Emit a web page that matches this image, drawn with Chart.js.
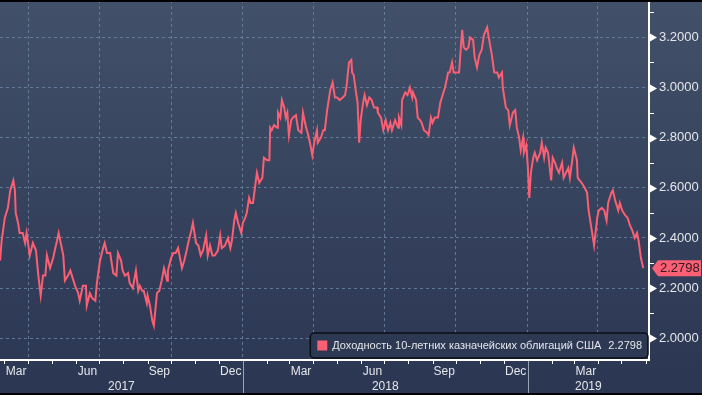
<!DOCTYPE html>
<html>
<head>
<meta charset="utf-8">
<script src="https://cdn.jsdelivr.net/npm/chart.js@4.4.1/dist/chart.umd.min.js"></script>
<style>
    html, body { margin: 0; padding: 0; background: #000; }
    canvas { display: block; }
</style>
</head>
<body>
<canvas id="yieldChart" width="702" height="395"></canvas>
<script>
var seriesName = "Доходность 10-летних казначейских облигаций США";

var dates = [
    '2017-02-24','2017-02-26','2017-03-02','2017-03-06','2017-03-09','2017-03-11','2017-03-13','2017-03-15','2017-03-16','2017-03-19',
    '2017-03-21','2017-03-25','2017-03-28','2017-03-30','2017-04-03','2017-04-07','2017-04-11','2017-04-14','2017-04-17','2017-04-20',
    '2017-04-23','2017-04-25','2017-04-29','2017-05-03','2017-05-05','2017-05-08','2017-05-10','2017-05-14','2017-05-16','2017-05-18',
    '2017-05-22','2017-05-25','2017-05-27','2017-05-31','2017-06-04','2017-06-06','2017-06-10','2017-06-14','2017-06-15','2017-06-19',
    '2017-06-22','2017-06-26','2017-06-28','2017-07-02','2017-07-06','2017-07-08','2017-07-11','2017-07-15','2017-07-19','2017-07-23',
    '2017-07-25','2017-07-29','2017-07-31','2017-08-03','2017-08-07','2017-08-09','2017-08-13','2017-08-17','2017-08-20','2017-08-22',
    '2017-08-25','2017-08-27','2017-08-31','2017-09-01','2017-09-04','2017-09-07','2017-09-09','2017-09-13','2017-09-16','2017-09-19',
    '2017-09-22','2017-09-26','2017-09-27','2017-10-01','2017-10-04','2017-10-07','2017-10-10','2017-10-15','2017-10-18','2017-10-21',
    '2017-10-23','2017-10-27','2017-10-29','2017-11-02','2017-11-05','2017-11-08','2017-11-11','2017-11-15','2017-11-17','2017-11-20',
    '2017-11-23','2017-11-26','2017-11-30','2017-12-03','2017-12-05','2017-12-09','2017-12-13','2017-12-16','2017-12-18','2017-12-21',
    '2017-12-23','2017-12-26','2017-12-30',
    '2018-01-01','2018-01-04','2018-01-06','2018-01-09','2018-01-11','2018-01-14','2018-01-19','2018-01-22','2018-01-26','2018-01-28',
    '2018-02-01','2018-02-04','2018-02-05','2018-02-07','2018-02-10','2018-02-14','2018-02-15','2018-02-18','2018-02-20','2018-02-23',
    '2018-02-25','2018-02-27','2018-03-01','2018-03-04','2018-03-06','2018-03-10','2018-03-13','2018-03-17','2018-03-19','2018-03-23',
    '2018-03-25','2018-03-28','2018-03-31','2018-04-03','2018-04-06','2018-04-07','2018-04-11','2018-04-14','2018-04-16','2018-04-19',
    '2018-04-23','2018-04-26','2018-04-29','2018-05-02','2018-05-05','2018-05-09','2018-05-12','2018-05-14','2018-05-17','2018-05-20',
    '2018-05-21','2018-05-23','2018-05-26','2018-05-28','2018-05-30','2018-06-01','2018-06-04','2018-06-06','2018-06-09','2018-06-12',
    '2018-06-15','2018-06-18','2018-06-22','2018-06-23','2018-06-27','2018-06-30','2018-07-03','2018-07-06','2018-07-09','2018-07-11',
    '2018-07-15','2018-07-19','2018-07-20','2018-07-23','2018-07-24','2018-07-28','2018-07-31','2018-08-03','2018-08-06','2018-08-07',
    '2018-08-11','2018-08-13','2018-08-16','2018-08-18','2018-08-21','2018-08-25','2018-08-27','2018-08-30','2018-09-01','2018-09-04',
    '2018-09-08','2018-09-11','2018-09-13','2018-09-17','2018-09-21','2018-09-23','2018-09-26','2018-09-28','2018-10-02','2018-10-05',
    '2018-10-08','2018-10-09','2018-10-11','2018-10-14','2018-10-17','2018-10-19','2018-10-23','2018-10-25','2018-10-28','2018-10-31',
    '2018-11-03','2018-11-06','2018-11-10','2018-11-12','2018-11-16','2018-11-19','2018-11-23','2018-11-25','2018-11-29','2018-11-30',
    '2018-12-04','2018-12-07','2018-12-09','2018-12-13','2018-12-16','2018-12-18','2018-12-21','2018-12-23','2018-12-26','2018-12-27',
    '2018-12-30',
    '2019-01-01','2019-01-03','2019-01-05','2019-01-08','2019-01-10','2019-01-13','2019-01-17','2019-01-19','2019-01-22','2019-01-24',
    '2019-01-27','2019-01-31','2019-02-02','2019-02-05','2019-02-07','2019-02-10','2019-02-14','2019-02-16','2019-02-19','2019-02-22',
    '2019-02-24','2019-02-27','2019-03-01','2019-03-05','2019-03-06','2019-03-11','2019-03-15','2019-03-18','2019-03-20','2019-03-24',
    '2019-03-27','2019-03-31','2019-04-02','2019-04-06','2019-04-09','2019-04-12','2019-04-14','2019-04-18','2019-04-20','2019-04-23',
    '2019-04-27','2019-04-29','2019-05-02','2019-05-06','2019-05-09','2019-05-12','2019-05-15','2019-05-18','2019-05-21','2019-05-23',
    '2019-05-26','2019-05-29'
];

var yields = [
    2.31,2.39,2.48,2.52,2.59,2.61,2.63,2.59,2.50,2.46,
    2.42,2.42,2.38,2.42,2.33,2.38,2.35,2.25,2.17,2.25,
    2.25,2.33,2.28,2.32,2.35,2.39,2.42,2.36,2.33,2.23,
    2.25,2.27,2.25,2.21,2.18,2.15,2.21,2.21,2.13,2.18,
    2.16,2.15,2.22,2.31,2.36,2.38,2.34,2.34,2.26,2.25,
    2.34,2.31,2.27,2.25,2.26,2.22,2.20,2.27,2.19,2.21,
    2.19,2.19,2.14,2.17,2.13,2.07,2.05,2.18,2.19,2.23,
    2.28,2.23,2.27,2.32,2.34,2.34,2.36,2.28,2.31,2.35,
    2.38,2.43,2.46,2.38,2.37,2.33,2.35,2.41,2.33,2.37,
    2.33,2.33,2.35,2.41,2.36,2.37,2.40,2.36,2.39,2.47,
    2.50,2.46,2.42,
    2.46,2.48,2.50,2.56,2.54,2.54,2.66,2.62,2.64,2.72,
    2.71,2.71,2.84,2.83,2.85,2.84,2.90,2.88,2.95,2.92,
    2.88,2.90,2.81,2.87,2.88,2.89,2.83,2.82,2.90,2.84,
    2.82,2.78,2.73,2.79,2.83,2.78,2.80,2.83,2.83,2.91,
    2.99,3.02,2.96,2.96,2.95,2.96,2.97,3.01,3.10,3.11,
    3.06,3.05,2.98,2.94,2.78,2.87,2.94,2.97,2.93,2.96,
    2.95,2.92,2.92,2.90,2.88,2.83,2.87,2.83,2.86,2.83,
    2.87,2.84,2.88,2.85,2.95,2.98,2.97,3.00,2.96,2.98,
    2.95,2.88,2.87,2.86,2.83,2.82,2.81,2.88,2.86,2.88,
    2.88,2.94,2.96,3.00,3.06,3.06,3.10,3.06,3.06,3.06,
    3.19,3.23,3.16,3.15,3.16,3.20,3.19,3.12,3.08,3.13,
    3.15,3.21,3.24,3.20,3.13,3.06,3.06,3.04,3.06,3.00,
    2.92,2.91,2.85,2.90,2.91,2.84,2.80,2.75,2.80,2.74,
    2.77,
    2.69,2.56,2.66,2.72,2.74,2.71,2.74,2.78,2.72,2.76,
    2.74,2.63,2.72,2.70,2.68,2.66,2.70,2.64,2.66,2.68,
    2.64,2.71,2.76,2.71,2.64,2.62,2.60,2.58,2.51,2.43,
    2.37,2.48,2.51,2.52,2.51,2.47,2.54,2.58,2.59,2.55,
    2.51,2.54,2.51,2.49,2.48,2.45,2.43,2.40,2.42,2.39,
    2.32,2.2798
];

var monthNames = ['Jan','Feb','Mar','Apr','May','Jun','Jul','Aug','Sep','Oct','Nov','Dec'];
var labelMonths = [2, 5, 8, 11];
var years = [2017, 2018, 2019];
var yTickStep = 0.1;

var DAY = 86400000;
var xMin = Date.UTC(2017, 2, 1) - 5.12 * DAY;
var xMax = Date.UTC(2019, 5, 1) + 4.35 * DAY;
var yMin = 1.9135;
var yMax = 3.349;

var lineColor = '#fa5f73';
var gridColor = 'rgba(112,140,170,0.75)';
var textColor = '#e4e6ea';
var fontFamily = '"Liberation Sans", Arial, sans-serif';

function toTime(s) {
    var p = s.split('-');
    return Date.UTC(+p[0], +p[1] - 1, +p[2]);
}

var points = [];
for (var i = 0; i < dates.length; i++) {
    points.push({ x: toTime(dates[i]), y: yields[i] });
}

function isMajor(v) {
    return Math.round(v * 10) % 2 === 0;
}

var bgPlugin = {
    id: 'bg',
    beforeDraw: function(chart) {
        var ctx = chart.ctx;
        var g = ctx.createLinearGradient(0, 0, 0, chart.height);
        g.addColorStop(0, '#425069');
        g.addColorStop(1, '#2b3652');
        ctx.save();
        ctx.fillStyle = g;
        ctx.fillRect(0, 0, chart.width, chart.height);
        ctx.restore();
    }
};

var decoPlugin = {
    id: 'deco',
    afterDraw: function(chart) {
        var ctx = chart.ctx;
        var xs = chart.scales.x, ys = chart.scales.y;
        var area = chart.chartArea;
        ctx.save();

        // right axis markers: triangles on major, short dashes on minor
        ctx.fillStyle = '#ffffff';
        ctx.strokeStyle = '#ffffff';
        ctx.lineWidth = 1;
        for (var k = 20; k <= 33; k++) {
            var py = Math.round(ys.getPixelForValue(k / 10));
            if (k % 2 === 0) {
                ctx.beginPath();
                ctx.moveTo(area.right + 1, py - 3.5);
                ctx.lineTo(area.right + 8, py + 0.5);
                ctx.lineTo(area.right + 1, py + 4.5);
                ctx.closePath();
                ctx.fill();
            } else {
                ctx.beginPath();
                ctx.moveTo(area.right, py + 0.5);
                ctx.lineTo(area.right + 5, py + 0.5);
                ctx.stroke();
            }
        }

        // month tick marks under the bottom axis
        for (var y = 2017; y <= 2019; y++) {
            for (var m = 0; m < 12; m++) {
                var t = Date.UTC(y, m, 1);
                if (t < xMin || t > xMax) continue;
                var px = Math.round(xs.getPixelForValue(t)) + 0.5;
                ctx.beginPath();
                ctx.moveTo(px, area.bottom);
                ctx.lineTo(px, area.bottom + 4);
                ctx.stroke();
            }
        }

        // month labels, centred in their month
        ctx.fillStyle = textColor;
        ctx.font = '12px ' + fontFamily;
        ctx.textAlign = 'center';
        ctx.textBaseline = 'middle';
        years.forEach(function(yr) {
            labelMonths.forEach(function(m) {
                var a = Date.UTC(yr, m, 1), b = Date.UTC(yr, m + 1, 1);
                var mid = (a + b) / 2;
                if (mid < xMin || mid > xMax) return;
                ctx.fillText(monthNames[m], xs.getPixelForValue(mid), area.bottom + 12);
            });
        });

        // year labels and separators
        years.forEach(function(yr) {
            var a = Math.max(Date.UTC(yr, 0, 1), xMin);
            var b = Math.min(Date.UTC(yr + 1, 0, 1), xMax);
            var pa = xs.getPixelForValue(a), pb = xs.getPixelForValue(b);
            ctx.fillStyle = textColor;
            ctx.fillText(String(yr), (pa + pb) / 2, area.bottom + 27);
            if (Date.UTC(yr, 0, 1) > xMin) {
                ctx.strokeStyle = '#9aa3b3';
                ctx.beginPath();
                ctx.moveTo(Math.round(pa) + 0.5, area.bottom + 1);
                ctx.lineTo(Math.round(pa) + 0.5, chart.height - 2);
                ctx.stroke();
            }
        });

        // legend box
        var last = yields[yields.length - 1];
        var valText = last.toFixed(4);
        ctx.font = '11px ' + fontFamily;
        var nameW = ctx.measureText(seriesName).width;
        var valW = ctx.measureText(valText).width;
        var boxR = area.right - 1, boxB = area.bottom - 2, boxH = 25;
        var boxW = 7 + 10 + 5 + nameW + 7 + valW + 6;
        var boxL = boxR - boxW, boxT = boxB - boxH, r = 4;
        ctx.beginPath();
        ctx.moveTo(boxL + r, boxT);
        ctx.lineTo(boxR - r, boxT);
        ctx.arcTo(boxR, boxT, boxR, boxT + r, r);
        ctx.lineTo(boxR, boxB - r);
        ctx.arcTo(boxR, boxB, boxR - r, boxB, r);
        ctx.lineTo(boxL + r, boxB);
        ctx.arcTo(boxL, boxB, boxL, boxB - r, r);
        ctx.lineTo(boxL, boxT + r);
        ctx.arcTo(boxL, boxT, boxL + r, boxT, r);
        ctx.closePath();
        ctx.fillStyle = '#2d3853';
        ctx.fill();
        ctx.lineWidth = 1.5;
        ctx.strokeStyle = '#0a0d14';
        ctx.stroke();
        var cy = boxT + boxH / 2;
        ctx.fillStyle = lineColor;
        ctx.fillRect(boxL + 7, cy - 5, 10, 10);
        ctx.fillStyle = textColor;
        ctx.textAlign = 'left';
        ctx.fillText(seriesName, boxL + 22, cy + 0.5);
        ctx.fillText(valText, boxR - 6 - valW, cy + 0.5);

        // last value tag on the right axis
        var ty = ys.getPixelForValue(last);
        var tl = area.right + 3;
        ctx.beginPath();
        ctx.moveTo(tl, ty);
        ctx.lineTo(tl + 6, ty - 8);
        ctx.lineTo(chart.width - 1, ty - 8);
        ctx.lineTo(chart.width - 1, ty + 8);
        ctx.lineTo(tl + 6, ty + 8);
        ctx.closePath();
        ctx.fillStyle = lineColor;
        ctx.fill();
        ctx.fillStyle = '#2a1a22';
        ctx.font = '13px ' + fontFamily;
        ctx.textAlign = 'left';
        ctx.fillText(valText, tl + 8, ty + 0.5);

        // black frame top and bottom
        ctx.fillStyle = '#000';
        ctx.fillRect(0, 0, chart.width, 2);
        ctx.fillRect(0, chart.height - 2, chart.width, 2);
        ctx.restore();
    }
};

var quarterStarts = [];
for (var qy = 2017; qy <= 2019; qy++) {
    for (var qm = 0; qm < 12; qm += 3) {
        var qt = Date.UTC(qy, qm, 1);
        if (qt > xMin && qt < xMax) quarterStarts.push(qt);
    }
}

var chart = new Chart(document.getElementById('yieldChart'), {
    type: 'line',
    data: {
        datasets: [{
            label: seriesName,
            data: points,
            borderColor: lineColor,
            borderWidth: 2,
            pointRadius: 0,
            tension: 0,
            fill: false
        }]
    },
    options: {
        responsive: false,
        animation: false,
        devicePixelRatio: 1,
        layout: { padding: 0 },
        plugins: {
            legend: { display: false },
            tooltip: { enabled: false }
        },
        scales: {
            x: {
                type: 'linear',
                position: 'bottom',
                min: xMin,
                max: xMax,
                afterBuildTicks: function(scale) {
                    scale.ticks = quarterStarts.map(function(v) { return { value: v }; });
                },
                afterFit: function(scale) {
                    scale.height = 35;
                    scale.paddingLeft = 0;
                    scale.paddingRight = 0;
                },
                ticks: { display: false },
                grid: { color: gridColor, lineWidth: 1, drawTicks: false },
                border: { display: true, color: '#ffffff', width: 2, dash: [3, 3] }
            },
            y: {
                position: 'right',
                min: yMin,
                max: yMax,
                afterFit: function(scale) {
                    scale.width = 53;
                    scale.paddingTop = 0;
                    scale.paddingBottom = 0;
                },
                ticks: {
                    stepSize: yTickStep,
                    includeBounds: false,
                    autoSkip: false,
                    padding: 10,
                    color: textColor,
                    font: { family: fontFamily, size: 13 },
                    callback: function(v) {
                        return isMajor(v) ? (Math.round(v * 10) / 10).toFixed(4) : '';
                    }
                },
                grid: {
                    drawTicks: false,
                    lineWidth: 1,
                    color: function(c) {
                        if (!c.tick) return gridColor;
                        return isMajor(c.tick.value) ? gridColor : 'rgba(0,0,0,0)';
                    }
                },
                border: { display: true, color: '#ffffff', width: 2, dash: [3, 3] }
            }
        }
    },
    plugins: [bgPlugin, decoPlugin]
});
</script>
</body>
</html>
